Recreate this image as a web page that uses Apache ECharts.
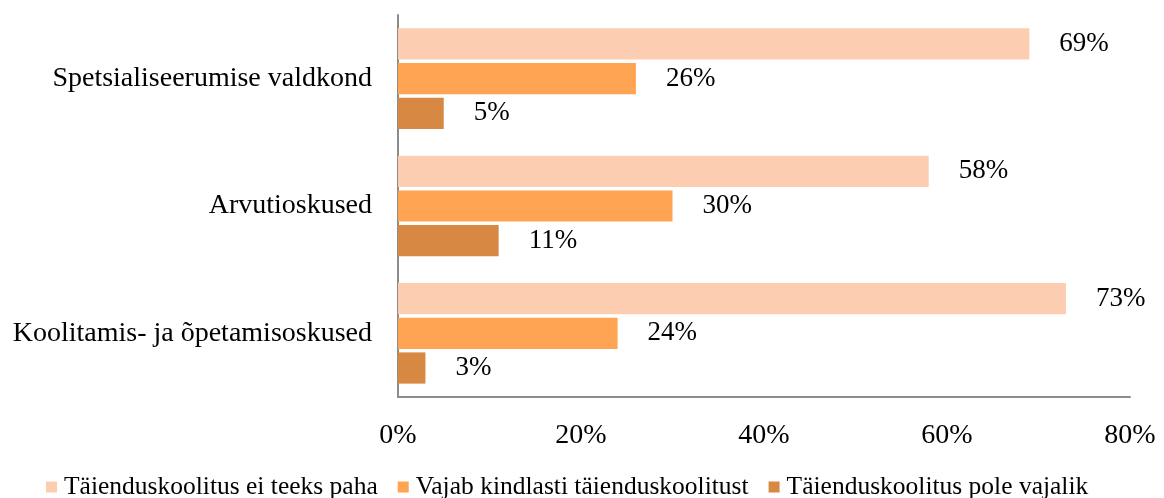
<!DOCTYPE html>
<html>
<head>
<meta charset="utf-8">
<script src="https://cdn.jsdelivr.net/npm/echarts@6/dist/echarts.min.js"></script>
<style>
  html, body { margin: 0; padding: 0; background: #fff; }
  #chart { width: 1164px; height: 498px; }
</style>
</head>
<body>
<div id="chart"></div>
<script>
// kategooriad ülevalt alla
const categories = ['Spetsialiseerumise valdkond', 'Arvutioskused', 'Koolitamis- ja õpetamisoskused']
const seriesNames = ['Täienduskoolitus ei teeks paha', 'Vajab kindlasti täienduskoolitust', 'Täienduskoolitus pole vajalik']
const eiTeeksPaha = [69, 58, 73]
const vajabKindlasti = [26, 30, 24]
const poleVajalik = [5, 11, 3]
const colors = ['#FDCDB1', '#FFA452', '#D78943']

const font = '"Liberation Serif", serif'
const values = [eiTeeksPaha, vajabKindlasti, poleVajalik]

const chart = echarts.init(document.getElementById('chart'))

chart.setOption({
  animation: false,
  textStyle: { fontFamily: font },
  grid: { left: 398, right: 34, top: 15, bottom: 101, containLabel: false },
  legend: {
    top: 474,
    left: 46,
    padding: 0,
    itemWidth: 11,
    itemHeight: 11,
    itemGap: 20,
    icon: 'rect',
    textStyle: { fontFamily: font, fontSize: 25.5, color: '#000', padding: [0, 0, 0, 2] },
    data: seriesNames
  },
  xAxis: {
    type: 'value',
    min: 0,
    max: 80,
    interval: 20,
    axisLine: { show: true, lineStyle: { color: '#8c8c8c', width: 2 } },
    axisTick: { show: false },
    splitLine: { show: false },
    axisLabel: { formatter: '{value}%', fontSize: 28, color: '#000', margin: 25, fontFamily: font }
  },
  yAxis: {
    type: 'category',
    inverse: true,
    data: categories,
    axisLine: { show: true, lineStyle: { color: '#8c8c8c', width: 2 } },
    axisTick: { show: false },
    axisLabel: { fontSize: 28, color: '#000', margin: 26, fontFamily: font }
  },
  series: values.map((d, i) => ({
    name: seriesNames[i],
    type: 'bar',
    data: d,
    barGap: '11%',
    barCategoryGap: '21%',
    itemStyle: { color: colors[i] },
    label: {
      show: true,
      position: 'right',
      distance: 30,
      formatter: '{c}%',
      fontSize: 27,
      color: '#000',
      fontFamily: font
    }
  }))
})
</script>
</body>
</html>
